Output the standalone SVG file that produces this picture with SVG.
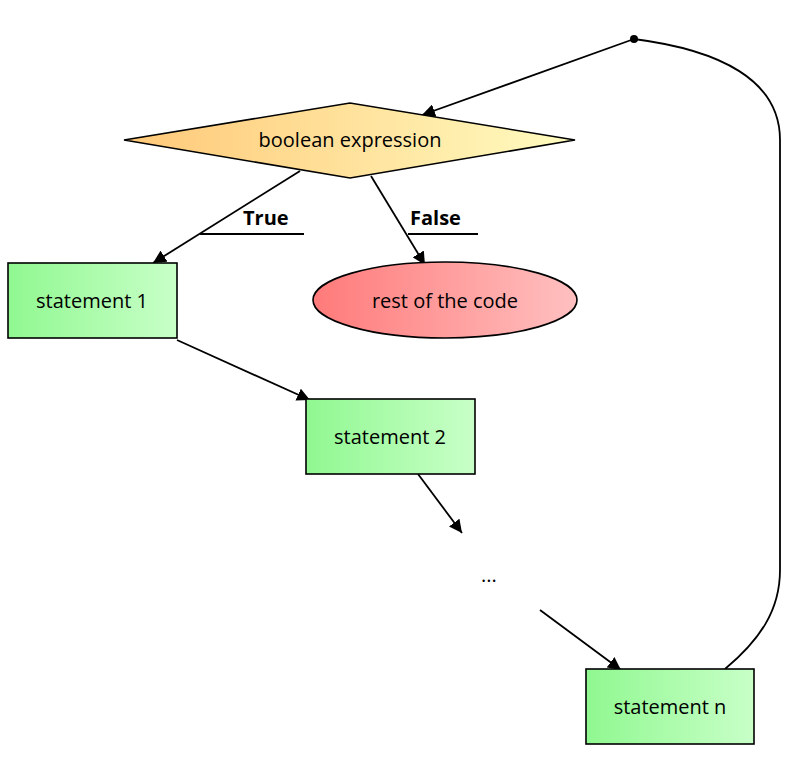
<svg xmlns="http://www.w3.org/2000/svg" width="800" height="764" viewBox="0 0 800 764">
<style>
text{font-family:"Open Sans","Noto Sans","DejaVu Sans",sans-serif;font-size:20px;fill:#000;text-anchor:middle;dominant-baseline:central}
.lbl{font-weight:bold;text-anchor:start}
.n{stroke:#000;stroke-width:1.6}
.e{stroke:#000;stroke-width:1.8;fill:none}
</style>
<defs>
<linearGradient id="g" x1="0" x2="1"><stop offset="0" stop-color="#90f890"/><stop offset="1" stop-color="#c8ffc8"/></linearGradient>
<linearGradient id="y" x1="0" x2="1"><stop offset="0" stop-color="#ffc878"/><stop offset="1" stop-color="#fffcc0"/></linearGradient>
<linearGradient id="r" x1="0" x2="1"><stop offset="0" stop-color="#ff7a7a"/><stop offset="1" stop-color="#ffc0c0"/></linearGradient>
<marker id="a" viewBox="0 0 10 10" refX="10" refY="5" markerWidth="13" markerHeight="13" markerUnits="userSpaceOnUse" orient="auto"><path d="M0,0L10,5L0,10z"/></marker>
</defs>
<g id="edges">
<path class="e" d="M634,39 L422,115" marker-end="url(#a)"/>
<path class="e" d="M300,171 L153,263" marker-end="url(#a)"/>
<path class="e" d="M200,234 H304"/>
<path class="e" d="M371,176 L425,265" marker-end="url(#a)"/>
<path class="e" d="M408,234 H478"/>
<path class="e" d="M177,340 L310,400" marker-end="url(#a)"/>
<path class="e" d="M418,474 L462,533" marker-end="url(#a)"/>
<path class="e" d="M540,610 L621,670" marker-end="url(#a)"/>
<path class="e" d="M725,669 C760,640 780,610 780,570 L780,140 C780,80 720,50 634,39"/>
<circle cx="634" cy="39" r="4" fill="#000"/>
<text class="lbl" x="243" y="217">True</text>
<text class="lbl" x="410" y="217">False</text>
</g>
<g id="cond"><polygon class="n" fill="url(#y)" points="124,140 350,103 575,140 350,178"/><text x="350" y="139">boolean expression</text></g>
<g id="s1"><rect class="n" fill="url(#g)" x="8" y="263" width="169" height="75"/><text x="92" y="300">statement 1</text></g>
<g id="rest"><ellipse class="n" fill="url(#r)" cx="445" cy="300" rx="132" ry="38"/><text x="445" y="300">rest of the code</text></g>
<g id="s2"><rect class="n" fill="url(#g)" x="306" y="399" width="169" height="75"/><text x="390" y="436">statement 2</text></g>
<g id="dots"><text x="489" y="574">...</text></g>
<g id="sn"><rect class="n" fill="url(#g)" x="586" y="669" width="168" height="75"/><text x="670" y="706">statement n</text></g>
</svg>
